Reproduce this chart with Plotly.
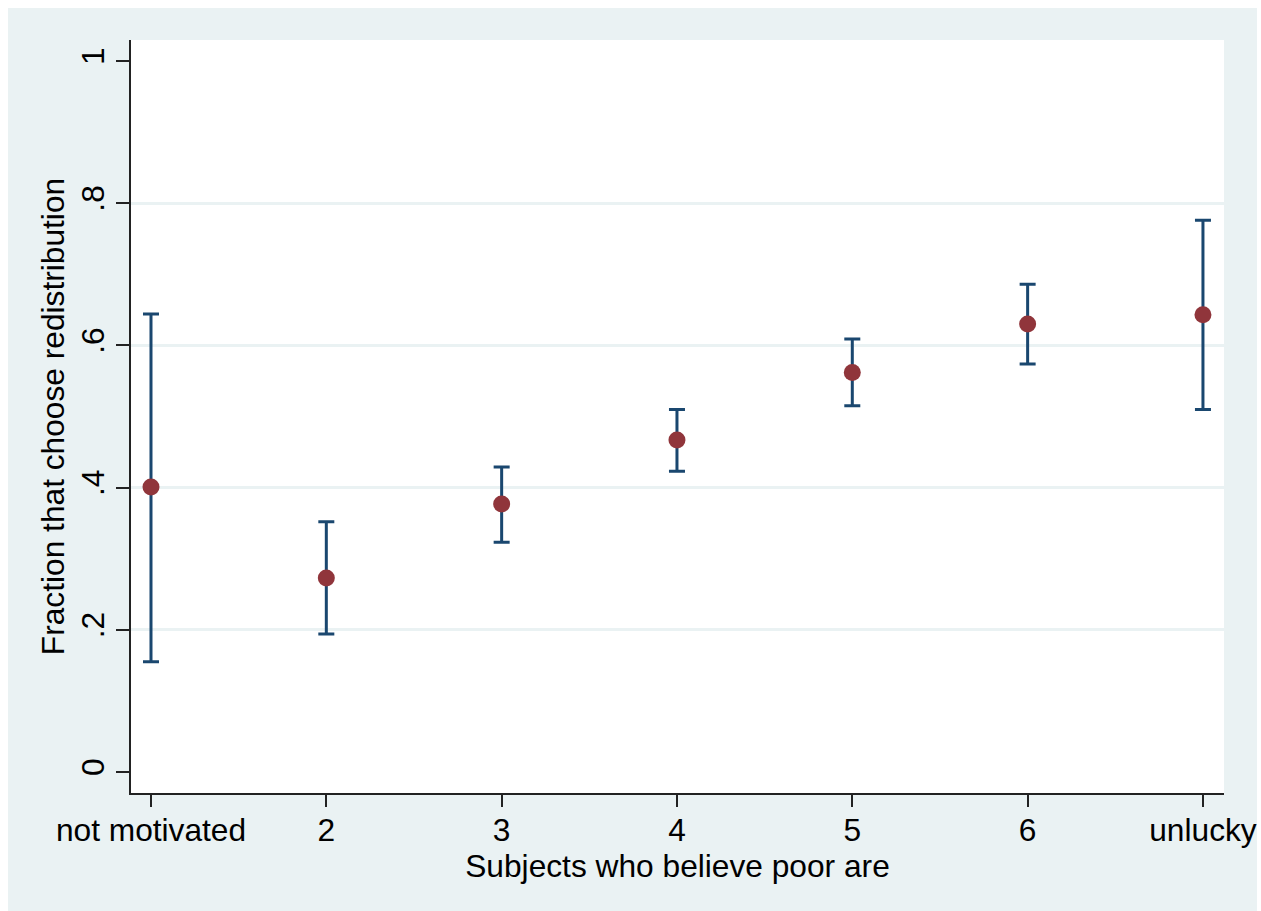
import plotly.graph_objects as go

categories = ["not motivated", "2", "3", "4", "5", "6", "unlucky"]
x_pos = [1, 2, 3, 4, 5, 6, 7]
fraction = [0.401, 0.273, 0.377, 0.467, 0.562, 0.630, 0.643]
upper = [0.644, 0.352, 0.429, 0.510, 0.609, 0.686, 0.776]
lower = [0.155, 0.194, 0.323, 0.423, 0.515, 0.574, 0.510]

y_ticks = [0, 0.2, 0.4, 0.6, 0.8, 1]
y_ticktext = ["0", ".2", ".4", ".6", ".8", "1"]
grid_vals = [0.2, 0.4, 0.6, 0.8]

err_plus = [u - f for u, f in zip(upper, fraction)]
err_minus = [f - l for f, l in zip(fraction, lower)]

BG = "#EAF2F3"
FONT = "Liberation Sans, Arial, sans-serif"
FS = 31.7

fig = go.Figure()
fig.add_trace(go.Scatter(
    x=x_pos, y=fraction, mode="markers",
    marker=dict(color="#90353B", size=17, line=dict(width=0)),
    error_y=dict(type="data", symmetric=False, array=err_plus, arrayminus=err_minus,
                 color="#1A476F", thickness=3, width=8),
    showlegend=False, hoverinfo="skip",
))

W, H = 1261, 911
L, R, T, B = 131, 1224, 40, 793

def px_x(p):
    return (p - L) / (R - L)

def px_y(p):
    return (B - p) / (B - T)

shapes = [
    dict(type="rect", xref="paper", yref="paper", x0=px_x(-5), x1=px_x(W + 5),
         y0=px_y(8), y1=px_y(-5), fillcolor="white", line=dict(width=0), layer="above"),
    dict(type="rect", xref="paper", yref="paper", x0=px_x(-5), x1=px_x(8),
         y0=px_y(W), y1=px_y(-5), fillcolor="white", line=dict(width=0), layer="above"),
    dict(type="rect", xref="paper", yref="paper", x0=px_x(1257), x1=px_x(W + 5),
         y0=px_y(W), y1=px_y(-5), fillcolor="white", line=dict(width=0), layer="above"),
]

fig.update_layout(
    width=W, height=H, autosize=False,
    margin=dict(l=L, r=W - R, t=T, b=H - B, pad=0),
    paper_bgcolor=BG, plot_bgcolor="white",
    font=dict(family=FONT, size=FS, color="black"),
    shapes=shapes,
    xaxis=dict(
        range=[0.886, 7.12], tickmode="array", tickvals=x_pos, ticktext=categories,
        automargin=False,
        showgrid=False, zeroline=False, showline=True, linecolor="#222222", linewidth=1.5,
        ticks="outside", ticklen=12, tickwidth=1.5, tickcolor="#222222",
        tickfont=dict(size=FS, family=FONT), ticklabelstandoff=-4,
        title=dict(text="Subjects who believe poor are", font=dict(size=FS, family=FONT), standoff=0),
    ),
    yaxis=dict(
        range=[-0.0295, 1.0295], tickmode="array", tickvals=y_ticks, ticktext=y_ticktext,
        tickangle=-90, automargin=False,
        showgrid=False, zeroline=False, showline=True, linecolor="#222222", linewidth=1.5,
        ticks="outside", ticklen=13, tickwidth=1.5, tickcolor="#222222",
        tickfont=dict(size=FS, family=FONT),
        minor=dict(tickvals=grid_vals, showgrid=True, gridcolor=BG, gridwidth=2.5, ticks=""),
        title=dict(text="Fraction that choose redistribution", font=dict(size=FS, family=FONT), standoff=0),
    ),
)

fig.write_html("out.html", config={"responsive": False})
